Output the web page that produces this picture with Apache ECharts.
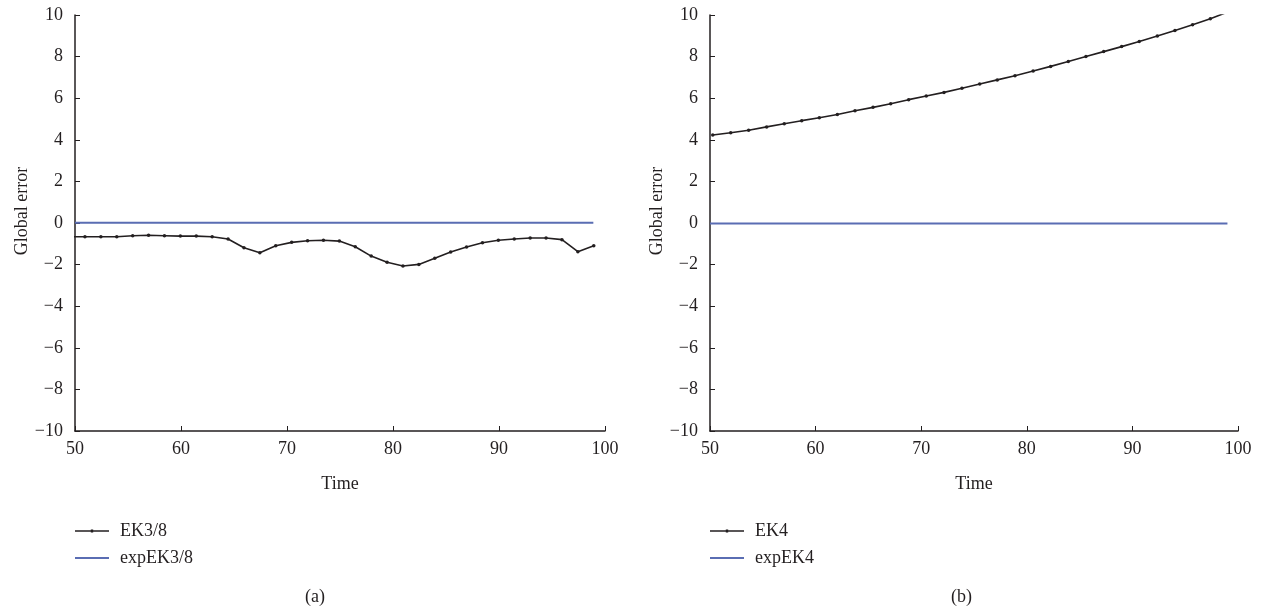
<!DOCTYPE html>
<html>
<head>
<meta charset="utf-8">
<script src="https://cdn.jsdelivr.net/npm/echarts@6/dist/echarts.min.js"></script>
<style>
  html, body { margin: 0; padding: 0; background: #fff; }
  #chart { width: 1263px; height: 607px; }
</style>
</head>
<body>
<div id="chart"></div>
<script>
// Tick values shared by both panels
const xTicks = [50, 60, 70, 80, 90, 100];
const yTicks = [-10, -8, -6, -4, -2, 0, 2, 4, 6, 8, 10];

// Panel (a): EK3/8 global error
const timeA = [49.44, 50.94, 52.44, 53.94, 55.44, 56.94, 58.44, 59.94, 61.44, 62.94, 64.44, 65.94,
  67.44, 68.94, 70.44, 71.94, 73.44, 74.94, 76.44, 77.94, 79.44, 80.94, 82.44, 83.94,
  85.44, 86.94, 88.44, 89.94, 91.44, 92.94, 94.44, 95.94, 97.44, 98.94];
const ek38 = [-0.66, -0.66, -0.66, -0.66, -0.61, -0.59, -0.61, -0.63, -0.63, -0.66, -0.77, -1.19,
  -1.43, -1.09, -0.93, -0.85, -0.83, -0.87, -1.14, -1.59, -1.89, -2.07, -1.99, -1.70,
  -1.39, -1.15, -0.95, -0.83, -0.77, -0.72, -0.72, -0.80, -1.38, -1.09];
const expTimeA = [50, 60, 70, 80, 90, 98.9];
const expEk38 = [0.01, 0.01, 0.01, 0.01, 0.01, 0.01];

// Panel (b): EK4 global error
const timeB = [50.26, 51.96, 53.66, 55.36, 57.03, 58.68, 60.35, 62.06, 63.73, 65.44, 67.11, 68.81,
  70.48, 72.16, 73.86, 75.54, 77.2, 78.88, 80.6, 82.26, 83.93, 85.6, 87.28, 88.98,
  90.65, 92.36, 94.03, 95.7, 97.38, 99.06];
const ek4 = [4.23, 4.34, 4.46, 4.62, 4.77, 4.92, 5.06, 5.22, 5.40, 5.56, 5.73, 5.93,
  6.11, 6.28, 6.48, 6.68, 6.88, 7.08, 7.31, 7.53, 7.76, 8.00, 8.24, 8.48,
  8.73, 8.99, 9.26, 9.53, 9.82, 10.15];
const expTimeB = [50, 60, 70, 80, 90, 99];
const expEk4 = [-0.02, -0.02, -0.02, -0.02, -0.02, -0.02];

const FONT = '"Liberation Serif", "DejaVu Serif", serif';
const INK = '#231f20';
const BLUE = '#5a6db3';

// Legend keys: a thin line with a small dot (marked series) or a plain line
const ICON_MARKED = 'path://M0,0.8 L15.8,0.8 L15.8,0 L18.2,0 L18.2,0.8 L34,0.8 L34,2.2 L18.2,2.2 L18.2,3 L15.8,3 L15.8,2.2 L0,2.2 Z';
const ICON_PLAIN = 'path://M0,0.6 L34,0.6 L34,2.4 L0,2.4 Z';

const zip = (xs, ys) => xs.map((x, i) => [x, ys[i]]);
const minus = v => String(v).replace('-', '\u2212');

function xAxis(gridIndex) {
  return {
    type: 'value', gridIndex,
    min: xTicks[0], max: xTicks[xTicks.length - 1], interval: xTicks[1] - xTicks[0],
    name: 'Time', nameLocation: 'middle', nameGap: 44,
    nameTextStyle: { fontFamily: FONT, fontSize: 18, color: INK },
    axisLine: { onZero: false, lineStyle: { color: INK, width: 1.5 } },
    axisTick: { inside: true, length: 5, lineStyle: { color: INK, width: 1 } },
    axisLabel: { fontFamily: FONT, fontSize: 18, color: INK, margin: 9, formatter: minus },
    splitLine: { show: false }
  };
}
function yAxis(gridIndex) {
  return {
    type: 'value', gridIndex,
    min: yTicks[0], max: yTicks[yTicks.length - 1], interval: yTicks[1] - yTicks[0],
    name: 'Global error', nameLocation: 'middle', nameGap: 35,
    nameTextStyle: { fontFamily: FONT, fontSize: 18, color: INK, padding: [0, 0, 0, 24] },
    axisLine: { show: true, lineStyle: { color: INK, width: 1.5 } },
    axisTick: { show: true, inside: true, length: 5, lineStyle: { color: INK, width: 1 } },
    axisLabel: { fontFamily: FONT, fontSize: 18, color: INK, margin: 12, formatter: minus },
    splitLine: { show: false }
  };
}
function legend(left, names) {
  return {
    orient: 'vertical', left, top: 522, padding: 0,
    itemWidth: 34, itemHeight: 3, itemGap: 9,
    data: [
      { name: names[0], icon: ICON_MARKED },
      { name: names[1], icon: ICON_PLAIN }
    ],
    textStyle: { fontFamily: FONT, fontSize: 18, color: INK, padding: [0, 0, 0, 6] }
  };
}
function ekSeries(name, idx, xs, ys) {
  return {
    name, type: 'line', xAxisIndex: idx, yAxisIndex: idx, data: zip(xs, ys),
    symbol: 'circle', symbolSize: 3.5, showSymbol: true, clip: true,
    lineStyle: { color: INK, width: 1.6 }, itemStyle: { color: INK },
    animation: false
  };
}
function expSeries(name, idx, xs, ys) {
  return {
    name, type: 'line', xAxisIndex: idx, yAxisIndex: idx, data: zip(xs, ys),
    symbol: 'none', showSymbol: false,
    lineStyle: { color: BLUE, width: 2 }, itemStyle: { color: BLUE },
    animation: false
  };
}

const chart = echarts.init(document.getElementById('chart'), null, { renderer: 'canvas' });
chart.setOption({
  animation: false,
  backgroundColor: '#fff',
  grid: [
    { left: 75, top: 15, width: 530, height: 416 },
    { left: 710, top: 15, width: 528, height: 416 }
  ],
  xAxis: [xAxis(0), xAxis(1)],
  yAxis: [yAxis(0), yAxis(1)],
  legend: [legend(75, ['EK3/8', 'expEK3/8']), legend(710, ['EK4', 'expEK4'])],
  series: [
    ekSeries('EK3/8', 0, timeA, ek38),
    expSeries('expEK3/8', 0, expTimeA, expEk38),
    ekSeries('EK4', 1, timeB, ek4),
    expSeries('expEK4', 1, expTimeB, expEk4)
  ],
  graphic: [
    { type: 'text', left: 305, top: 588, style: { text: '(a)', fontFamily: FONT, fontSize: 18, fill: INK } },
    { type: 'text', left: 951, top: 588, style: { text: '(b)', fontFamily: FONT, fontSize: 18, fill: INK } }
  ]
});
</script>
</body>
</html>
